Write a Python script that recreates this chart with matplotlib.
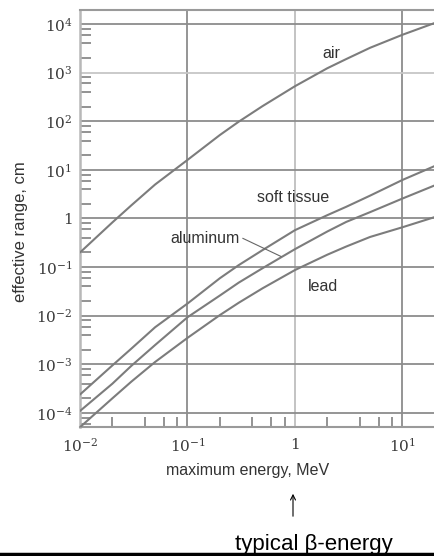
import matplotlib
matplotlib.use("Agg")
import matplotlib.pyplot as plt
from matplotlib.ticker import LogLocator, FixedLocator, FixedFormatter, NullFormatter
from matplotlib.lines import Line2D
from matplotlib.patches import FancyArrowPatch

# ---- data ----
energy = [0.01, 0.02, 0.03, 0.05, 0.1, 0.2, 0.3, 0.5, 1.0, 2.0, 3.0, 5.0, 10.0, 20.0]
range_air = [0.20, 0.83, 1.86, 5.0, 16.0, 52.0, 98.0, 205.0, 525.0, 1230.0, 1900.0, 3240.0, 6000.0, 10500.0]
range_tissue = [2.4e-4, 9.5e-4, 2.1e-3, 5.8e-3, 0.0178, 0.059, 0.11, 0.224, 0.575, 1.17, 1.74, 2.95, 6.2, 12.0]
range_alu = [1.1e-4, 4.0e-4, 9.3e-4, 2.5e-3, 9.3e-3, 0.026, 0.048, 0.095, 0.234, 0.54, 0.85, 1.35, 2.57, 4.8]
range_lead = [5.1e-5, 2.0e-4, 4.4e-4, 1.12e-3, 3.5e-3, 0.0103, 0.0185, 0.0367, 0.087, 0.18, 0.265, 0.417, 0.66, 1.07]

y_ticks = [1e-4, 1e-3, 1e-2, 1e-1, 1, 10, 100, 1000, 10000]
y_ticklabels = [r"$10^{-4}$", r"$10^{-3}$", r"$10^{-2}$", r"$10^{-1}$", r"$1$",
                r"$10^{1}$", r"$10^{2}$", r"$10^{3}$", r"$10^{4}$"]
x_ticks = [0.01, 0.1, 1, 10]
x_ticklabels = [r"$10^{-2}$", r"$10^{-1}$", r"$1$", r"$10^{1}$"]

x_label = "maximum energy, MeV"
y_label = "effective range, cm"
note = "typical β-energy"

# ---- styling ----
plt.rcParams["mathtext.fontset"] = "dejavuserif"
plt.rcParams["font.family"] = ["Liberation Sans", "DejaVu Sans"]

W, H = 435, 556
fig = plt.figure(figsize=(W / 100, H / 100), dpi=100)
fig.patch.set_facecolor("white")

left, right, top, bottom = 80, 435, 10, 427
ax = fig.add_axes([left / W, 1 - bottom / H, (right - left) / W, (bottom - top) / H])
ax.set_xscale("log")
ax.set_yscale("log")
ax.set_xlim(0.01, 20.1)
ax.set_ylim(5.15e-5, 1.94e4)

curve_color = "#7c7c7c"
for r in [range_air, range_tissue, range_alu, range_lead]:
    ax.plot(energy, r, color=curve_color, lw=1.5, solid_capstyle="round",
            solid_joinstyle="round", zorder=3)

# ticks
ax.yaxis.set_major_locator(FixedLocator(y_ticks))
ax.yaxis.set_major_formatter(FixedFormatter(y_ticklabels))
ax.xaxis.set_major_locator(FixedLocator(x_ticks))
ax.xaxis.set_major_formatter(FixedFormatter(x_ticklabels))
ax.yaxis.set_minor_locator(LogLocator(base=10, subs=[2, 4, 6, 8], numticks=20))
ax.xaxis.set_minor_locator(LogLocator(base=10, subs=[2, 4, 6, 8], numticks=20))
ax.yaxis.set_minor_formatter(NullFormatter())
ax.xaxis.set_minor_formatter(NullFormatter())
ax.tick_params(which="both", direction="in", color="#8a8a8a", width=1.3)
ax.tick_params(which="major", length=0, labelsize=11, labelcolor="#3a3a3a")
ax.tick_params(axis="y", which="major", pad=5.5)
ax.tick_params(axis="x", which="major", pad=7)
ax.tick_params(axis="y", which="minor", length=8)
ax.tick_params(axis="x", which="minor", length=7)

# grid
ax.grid(True, which="major", color="#8c8c8c", lw=1.3, zorder=1)
for val, gl in zip(y_ticks, ax.get_ygridlines()):
    if val == 1000:
        gl.set_color("#c6c6c6")
for val, gl in zip(x_ticks, ax.get_xgridlines()):
    if val == 1:
        gl.set_color("#bebebe")
ax.set_axisbelow(True)

ax.spines["left"].set_color("#b8b8b8")
ax.spines["left"].set_linewidth(1.8)
for side in ["bottom", "top"]:
    ax.spines[side].set_color("#9a9a9a")
    ax.spines[side].set_linewidth(1.5)
ax.spines["right"].set_visible(False)

# curve labels
lab_kw = dict(fontsize=11.5, color="#333333", ha="center", va="center", zorder=4)
ax.text(2.16, 2500, "air", **lab_kw)
ax.text(0.96, 2.75, "soft tissue", **lab_kw)
ax.text(0.147, 0.38, "aluminum", **lab_kw)
ax.text(1.83, 0.039, "lead", **lab_kw)
ax.plot([0.328, 0.74], [0.39, 0.166], color="#666666", lw=0.8, zorder=4)

# axis labels
fig.text(248 / W, 1 - 470 / H, x_label, fontsize=11.5, color="#333333", ha="center", va="center")
fig.text(21 / W, 1 - 232 / H, y_label, fontsize=12, color="#333333", ha="center", va="center",
         rotation=90)

# annotation arrow and note
fig.patches.append(FancyArrowPatch(
    (293 / W, 1 - 519 / H), (293 / W, 1 - 491 / H), transform=fig.transFigure,
    arrowstyle="->", mutation_scale=9, lw=0.8, color="black"))
fig.text(313.5 / W, 1 - 550 / H, note, fontsize=16, color="black", ha="center", va="baseline")
fig.add_artist(Line2D([0, 1], [1 - 553.5 / H, 1 - 553.5 / H], transform=fig.transFigure,
                      color="black", lw=2.5))

fig.savefig("out.png", dpi=100, facecolor="white")
